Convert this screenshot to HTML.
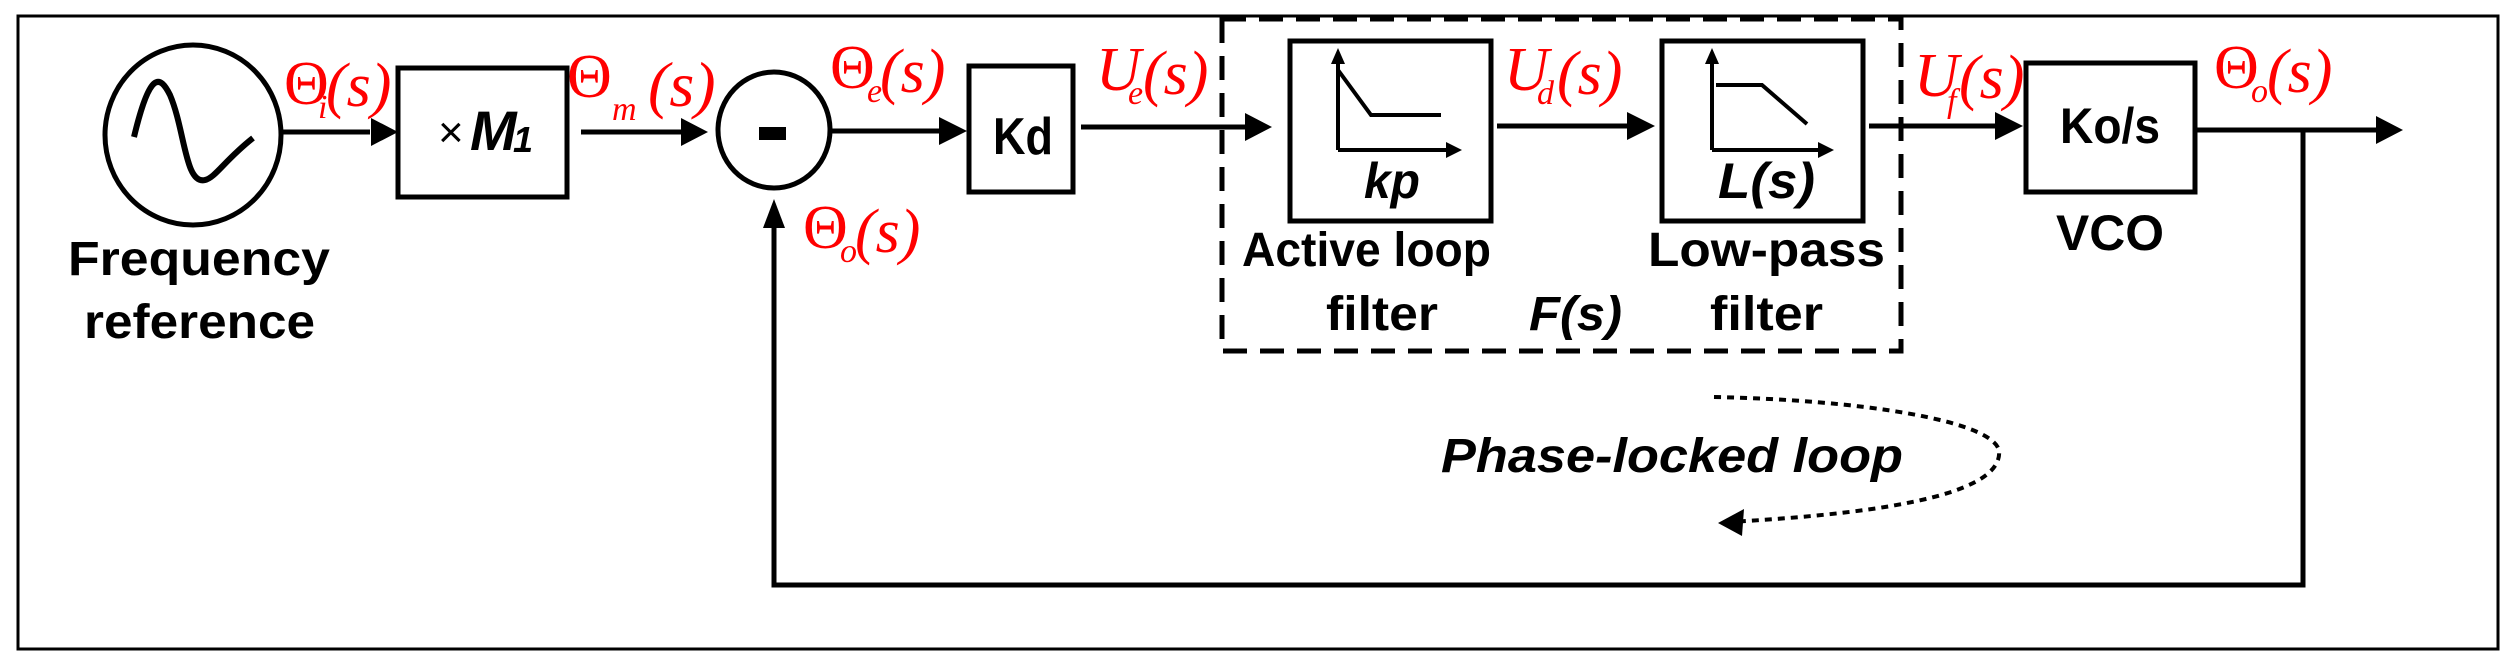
<!DOCTYPE html>
<html><head><meta charset="utf-8"><style>
html,body{margin:0;padding:0;background:#fff}
svg{display:block}
.b{font-family:"Liberation Sans",sans-serif;font-weight:bold;fill:#000}
.r{font-family:"Liberation Serif",serif;fill:#f00}
.ri{font-family:"Liberation Serif",serif;font-style:italic;fill:#f00}
</style></head><body>
<svg width="2520" height="663" viewBox="0 0 2520 663" xmlns="http://www.w3.org/2000/svg">
<rect x="18" y="16" width="2480" height="633" fill="none" stroke="#000" stroke-width="3"/>
<!-- source -->
<ellipse cx="193" cy="135" rx="88" ry="90" fill="none" stroke="#000" stroke-width="5"/>
<path d="M134,137 C150,70 160,75 170,95 C185,130 185,185 205,180 C215,178 225,160 253,138" fill="none" stroke="#000" stroke-width="6"/>
<text class="b" x="68" y="275" font-size="48" textLength="262" lengthAdjust="spacingAndGlyphs">Frequency</text>
<text class="b" x="84" y="338" font-size="48" textLength="231" lengthAdjust="spacingAndGlyphs">reference</text>
<!-- arrows -->
<g stroke="#000" stroke-width="5" fill="none">
<line x1="281" y1="132" x2="370" y2="132"/>
<line x1="581" y1="132" x2="682" y2="132"/>
<line x1="832" y1="131" x2="940" y2="131"/>
<line x1="1081" y1="127" x2="1246" y2="127"/>
<line x1="1497" y1="126" x2="1628" y2="126"/>
<line x1="1869" y1="126" x2="1996" y2="126"/>
<line x1="2197" y1="130" x2="2377" y2="130"/>
</g>
<g fill="#000">
<path d="M371,118 L398,132 L371,146z"/>
<path d="M681,118 L708,132 L681,146z"/>
<path d="M939,117 L967,131 L939,145z"/>
<path d="M1245,113 L1272,127 L1245,141z"/>
<path d="M1627,112 L1655,126 L1627,140z"/>
<path d="M1995,112 L2023,126 L1995,140z"/>
<path d="M2376,116 L2403,130 L2376,144z"/>
<path d="M763,228 L774,199 L785,228z"/>
</g>
<!-- feedback -->
<polyline points="774,228 774,585 2303,585 2303,130" fill="none" stroke="#000" stroke-width="5"/>
<!-- M1 -->
<rect x="398" y="68" width="169" height="129" fill="none" stroke="#000" stroke-width="5"/>
<text x="438" y="147" font-family="Liberation Sans,sans-serif" font-size="44" fill="#000">×</text>
<text class="b" x="470" y="150" font-size="56" font-style="italic">M</text>
<text class="b" x="513" y="152" font-size="36" font-style="italic">1</text>
<!-- sum -->
<ellipse cx="774" cy="130" rx="56" ry="58" fill="none" stroke="#000" stroke-width="5"/>
<rect x="759" y="127" width="27" height="13" fill="#000"/>
<!-- Kd -->
<rect x="969" y="66" width="104" height="126" fill="none" stroke="#000" stroke-width="5"/>
<text class="b" x="993" y="154" font-size="52" textLength="60" lengthAdjust="spacingAndGlyphs">Kd</text>
<!-- dashed box -->
<rect x="1222" y="19" width="679" height="332" fill="none" stroke="#000" stroke-width="5" stroke-dasharray="24,13"/>
<!-- active filter -->
<rect x="1290" y="41" width="201" height="180" fill="none" stroke="#000" stroke-width="5"/>
<g stroke="#000" stroke-width="4" fill="none">
<line x1="1338" y1="150" x2="1338" y2="62"/>
<line x1="1338" y1="150" x2="1448" y2="150"/>
<polyline points="1338,70 1371,115 1441,115"/>
<line x1="1712" y1="150" x2="1712" y2="62"/>
<line x1="1712" y1="150" x2="1820" y2="150"/>
<polyline points="1716,85 1762,85 1807,124"/>
</g>
<g fill="#000">
<path d="M1331,64 L1338,48 L1345,64z"/>
<path d="M1446,142 L1462,150 L1446,158z"/>
<path d="M1705,64 L1712,48 L1719,64z"/>
<path d="M1818,142 L1834,150 L1818,158z"/>
</g>
<text class="b" x="1364" y="198" font-size="50" font-style="italic" textLength="56" lengthAdjust="spacingAndGlyphs">kp</text>
<rect x="1662" y="41" width="201" height="180" fill="none" stroke="#000" stroke-width="5"/>
<text class="b" x="1718" y="198" font-size="50" font-style="italic" textLength="97" lengthAdjust="spacingAndGlyphs">L(s)</text>
<text class="b" x="1242" y="266" font-size="48" textLength="249" lengthAdjust="spacingAndGlyphs">Active loop</text>
<text class="b" x="1326" y="330" font-size="48" textLength="112" lengthAdjust="spacingAndGlyphs">filter</text>
<text class="b" x="1529" y="330" font-size="48" font-style="italic" textLength="93" lengthAdjust="spacingAndGlyphs">F(s)</text>
<text class="b" x="1648" y="266" font-size="48" textLength="237" lengthAdjust="spacingAndGlyphs">Low-pass</text>
<text class="b" x="1710" y="330" font-size="48" textLength="113" lengthAdjust="spacingAndGlyphs">filter</text>
<!-- VCO -->
<rect x="2026" y="63" width="169" height="129" fill="none" stroke="#000" stroke-width="5"/>
<text class="b" x="2060" y="143" font-size="50" textLength="100" lengthAdjust="spacingAndGlyphs">Ko/s</text>
<text class="b" x="2056" y="250" font-size="50" textLength="108" lengthAdjust="spacingAndGlyphs">VCO</text>
<!-- PLL -->
<text class="b" x="1441" y="472" font-size="48" font-style="italic" textLength="462" lengthAdjust="spacingAndGlyphs">Phase-locked loop</text>
<path d="M1714,397 C1860,400 1990,420 1999,450 C2005,500 1850,515 1730,522" fill="none" stroke="#000" stroke-width="4" stroke-dasharray="7,6"/>
<path d="M1718,523 L1744,509 L1742,536z" fill="#000"/>
<!-- red labels -->
<g font-size="62">
<text class="r" x="284" y="104">Θ</text><text class="ri" x="318" y="118" font-size="34">i</text><text class="ri" x="326" y="106">(s)</text>
<text class="r" x="567" y="97">Θ</text><text class="ri" x="612" y="120" font-size="34">m</text><text class="ri" x="648" y="106" font-size="64">(s)</text>
<text class="r" x="830" y="88">Θ</text><text class="ri" x="867" y="102" font-size="34">e</text><text class="ri" x="880" y="92">(s)</text>
<text class="r" x="803" y="248">Θ</text><text class="ri" x="840" y="262" font-size="34">o</text><text class="ri" x="855" y="252">(s)</text>
<text class="ri" x="1096" y="90">U</text><text class="ri" x="1128" y="104" font-size="34">e</text><text class="ri" x="1143" y="94">(s)</text>
<text class="ri" x="1504" y="90">U</text><text class="ri" x="1537" y="104" font-size="34">d</text><text class="ri" x="1557" y="94">(s)</text>
<text class="ri" x="1914" y="96">U</text><text class="ri" x="1947" y="112" font-size="34">f</text><text class="ri" x="1959" y="98">(s)</text>
<text class="r" x="2214" y="88">Θ</text><text class="ri" x="2251" y="102" font-size="34">o</text><text class="ri" x="2267" y="92">(s)</text>
</g>
</svg>
</body></html>
